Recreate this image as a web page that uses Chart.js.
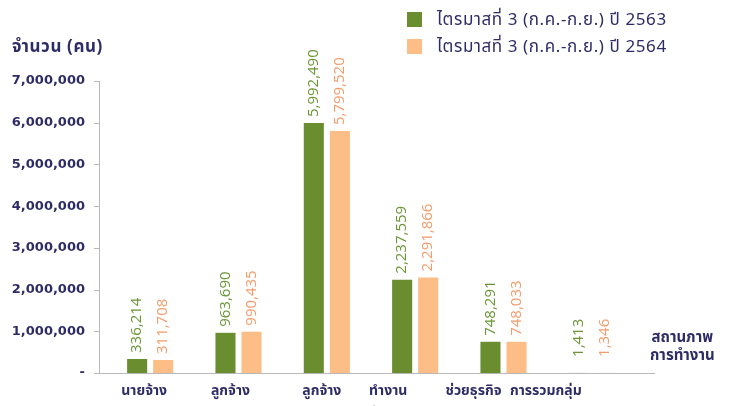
<!DOCTYPE html>
<html>
<head>
<meta charset="utf-8">
<script src="https://cdn.jsdelivr.net/npm/chart.js@4.4.0/dist/chart.umd.min.js"></script>
<style>
  body { margin: 0; background: #fff; }
  #wrap { position: relative; width: 731px; height: 406px; font-family: "Noto Sans Thai", "Noto Sans", sans-serif; color: #2e2c66; }
  #yTitle { position: absolute; left: 12px; top: 34px; font-size: 17px; font-weight: bold; letter-spacing: 0.6px; }
  #legend { position: absolute; left: 407px; top: 6px; font-size: 17px; letter-spacing: 0.6px; }
  .item { display: flex; align-items: center; height: 27px; }
  .box { width: 15px; height: 15px; margin-right: 15px; }
  #xTitle { position: absolute; left: 650px; top: 329px; font-size: 15px; font-weight: bold; line-height: 18px; text-align: center; }
</style>
</head>
<body>
<div id="wrap">
  <canvas id="chart" width="731" height="406"></canvas>
  <div id="yTitle">จำนวน (คน)</div>
  <div id="legend"></div>
  <div id="xTitle">สถานภาพ<br>การทำงาน</div>
</div>
<script>
const categories = [["นายจ้าง"], ["ลูกจ้าง", "รัฐบาล"], ["ลูกจ้าง", "เอกชน"], ["ทำงาน", "ส่วนตัว"], ["ช่วยธุรกิจ", "ครัวเรือน"], ["การรวมกลุ่ม"]];
const seriesNames = ["ไตรมาสที่ 3 (ก.ค.-ก.ย.) ปี 2563", "ไตรมาสที่ 3 (ก.ค.-ก.ย.) ปี 2564"];
const q3y2563 = [336214, 963690, 5992490, 2237559, 748291, 1413];
const q3y2564 = [311708, 990435, 5799520, 2291866, 748033, 1346];
const yTicks = [0, 1000000, 2000000, 3000000, 4000000, 5000000, 6000000, 7000000];

const barColors = ["#6a8e2f", "#fcbd87"];
const textColors = ["#6b9637", "#f39c6b"];
const navy = "#2e2c66";
const axisGrey = "#b8b8b8";
// the category captions in the original sit a little left of their bars
const labelShift = [-6, -8, -5, -27, -30, -46];

// legend
let legend = document.getElementById("legend");
seriesNames.forEach((name, i) => {
  let row = document.createElement("div");
  row.className = "item";
  row.innerHTML = '<span class="box" style="background:' + barColors[i] + '"></span>' + name;
  legend.appendChild(row);
});

const valueLabels = {
  id: "valueLabels",
  afterDatasetsDraw(chart) {
    let ctx = chart.ctx;
    ctx.save();
    ctx.font = '15px "Open Sans", sans-serif';
    ctx.textAlign = "left";
    ctx.textBaseline = "middle";
    chart.data.datasets.forEach((ds, d) => {
      let meta = chart.getDatasetMeta(d);
      ctx.fillStyle = textColors[d];
      meta.data.forEach((bar, i) => {
        // tiny bars get a bit more room, as in the original
        let gap = bar.base - bar.y < 5 ? 16 : 6;
        ctx.save();
        ctx.translate(bar.x, bar.y - gap);
        ctx.rotate(-Math.PI / 2);
        ctx.fillText(ds.data[i].toLocaleString("en-US"), 0, 0);
        ctx.restore();
      });
    });
    ctx.restore();
  }
};

const axesAndLabels = {
  id: "axesAndLabels",
  afterDraw(chart) {
    let ctx = chart.ctx;
    let x = chart.scales.x, y = chart.scales.y;
    let area = chart.chartArea;
    let ax = area.left - 7;
    let y0 = y.getPixelForValue(0);
    ctx.save();
    ctx.strokeStyle = axisGrey;
    ctx.lineWidth = 1;
    ctx.beginPath();
    ctx.moveTo(ax + 0.5, y.getPixelForValue(yTicks[yTicks.length - 1]));
    ctx.lineTo(ax + 0.5, y0);
    yTicks.forEach((t) => {
      let py = Math.round(y.getPixelForValue(t)) + 0.5;
      ctx.moveTo(ax - 5, py);
      ctx.lineTo(ax, py);
    });
    ctx.moveTo(ax, Math.round(y0) + 0.5);
    ctx.lineTo(area.right + 19, Math.round(y0) + 0.5);
    ctx.stroke();

    ctx.fillStyle = navy;
    ctx.font = 'bold 14px "Noto Sans Thai", "Noto Sans", sans-serif';
    ctx.textAlign = "center";
    ctx.textBaseline = "middle";
    categories.forEach((lines, i) => {
      let px = x.getPixelForValue(i) + labelShift[i];
      lines.forEach((line, j) => {
        ctx.fillText(line, px, y0 + 19 + j * 23);
      });
    });
    ctx.restore();
  }
};

let ctx = document.getElementById("chart").getContext("2d");
let chart = new Chart(ctx, {
  type: "bar",
  data: {
    labels: categories,
    datasets: [
      {
        label: seriesNames[0],
        data: q3y2563,
        backgroundColor: barColors[0],
        barPercentage: 0.77,
        categoryPercentage: 0.59,
      },
      {
        label: seriesNames[1],
        data: q3y2564,
        backgroundColor: barColors[1],
        barPercentage: 0.77,
        categoryPercentage: 0.59,
      },
    ],
  },
  options: {
    responsive: false,
    animation: false,
    layout: { padding: { top: 81, right: 95, bottom: 0, left: 0 } },
    plugins: { legend: { display: false }, tooltip: { enabled: false } },
    scales: {
      x: {
        grid: { display: false, drawTicks: false },
        border: { display: false },
        ticks: { display: false },
        afterFit(scale) { scale.height = 33; },
      },
      y: {
        min: 0,
        max: 7000000,
        afterBuildTicks(scale) { scale.ticks = yTicks.map((v) => ({ value: v })); },
        grid: { display: false, drawTicks: false },
        border: { display: false },
        ticks: {
          padding: 21,
          color: navy,
          font: { family: "DejaVu Sans", weight: "bold", size: 13 },
          callback: (v) => (v === 0 ? "-" : v.toLocaleString("en-US")),
        },
        afterFit(scale) { scale.width = 106; },
      },
    },
  },
  plugins: [valueLabels, axesAndLabels],
});
</script>
</body>
</html>
